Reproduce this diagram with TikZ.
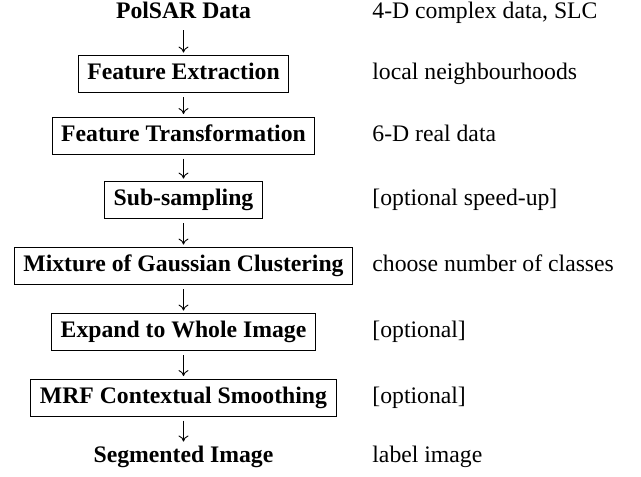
\documentclass[tikz,border=0pt]{standalone}
\usepackage{fontspec}
\setmainfont{Liberation Serif}
\usetikzlibrary{arrows.meta}
\begin{document}
\begin{tikzpicture}[x=0.5pt,y=-0.5pt,
  every node/.style={font=\fontsize{11.85}{14}\selectfont, text height=8.1pt, text depth=2.6pt},
  stepbox/.style={draw, line width=0.5pt, font=\fontsize{11.85}{14}\selectfont\bfseries, inner xsep=4.5pt, minimum height=18.5pt},
  endtext/.style={font=\fontsize{11.85}{14}\selectfont\bfseries, inner sep=1pt},
  note/.style={anchor=west, inner sep=0pt},
  conn/.style={-{To[length=3pt,width=5pt]}, line width=0.45pt, shorten <=2pt, shorten >=1.2pt}]
\useasboundingbox (0,0) rectangle (641,476);
\node[endtext] (n0) at (183.5,13) {PolSAR Data};
\node[stepbox] (n1) at (183.5,74) {Feature Extraction};
\node[stepbox] (n2) at (183.5,135.5) {Feature Transformation};
\node[stepbox] (n3) at (183.5,200) {Sub-sampling};
\node[stepbox] (n4) at (183.5,266) {Mixture of Gaussian Clustering};
\node[stepbox] (n5) at (183.5,332) {Expand to Whole Image};
\node[stepbox] (n6) at (183.5,397.5) {MRF Contextual Smoothing};
\node[endtext] (n7) at (183.5,457) {Segmented Image};
\draw[conn] (n0) -- (n1);
\draw[conn] (n1) -- (n2);
\draw[conn] (n2) -- (n3);
\draw[conn] (n3) -- (n4);
\draw[conn] (n4) -- (n5);
\draw[conn] (n5) -- (n6);
\draw[conn] (n6) -- (n7);
\node[note] (r0) at (372,13) {4-D complex data, SLC};
\node[note] (r1) at (372,74) {local neighbourhoods};
\node[note] (r2) at (372,135.5) {6-D real data};
\node[note] (r3) at (372,200) {[optional speed-up]};
\node[note] (r4) at (372,266) {choose number of classes};
\node[note] (r5) at (372,332) {[optional]};
\node[note] (r6) at (372,397.5) {[optional]};
\node[note] (r7) at (372,457) {label image};
\end{tikzpicture}
\end{document}
